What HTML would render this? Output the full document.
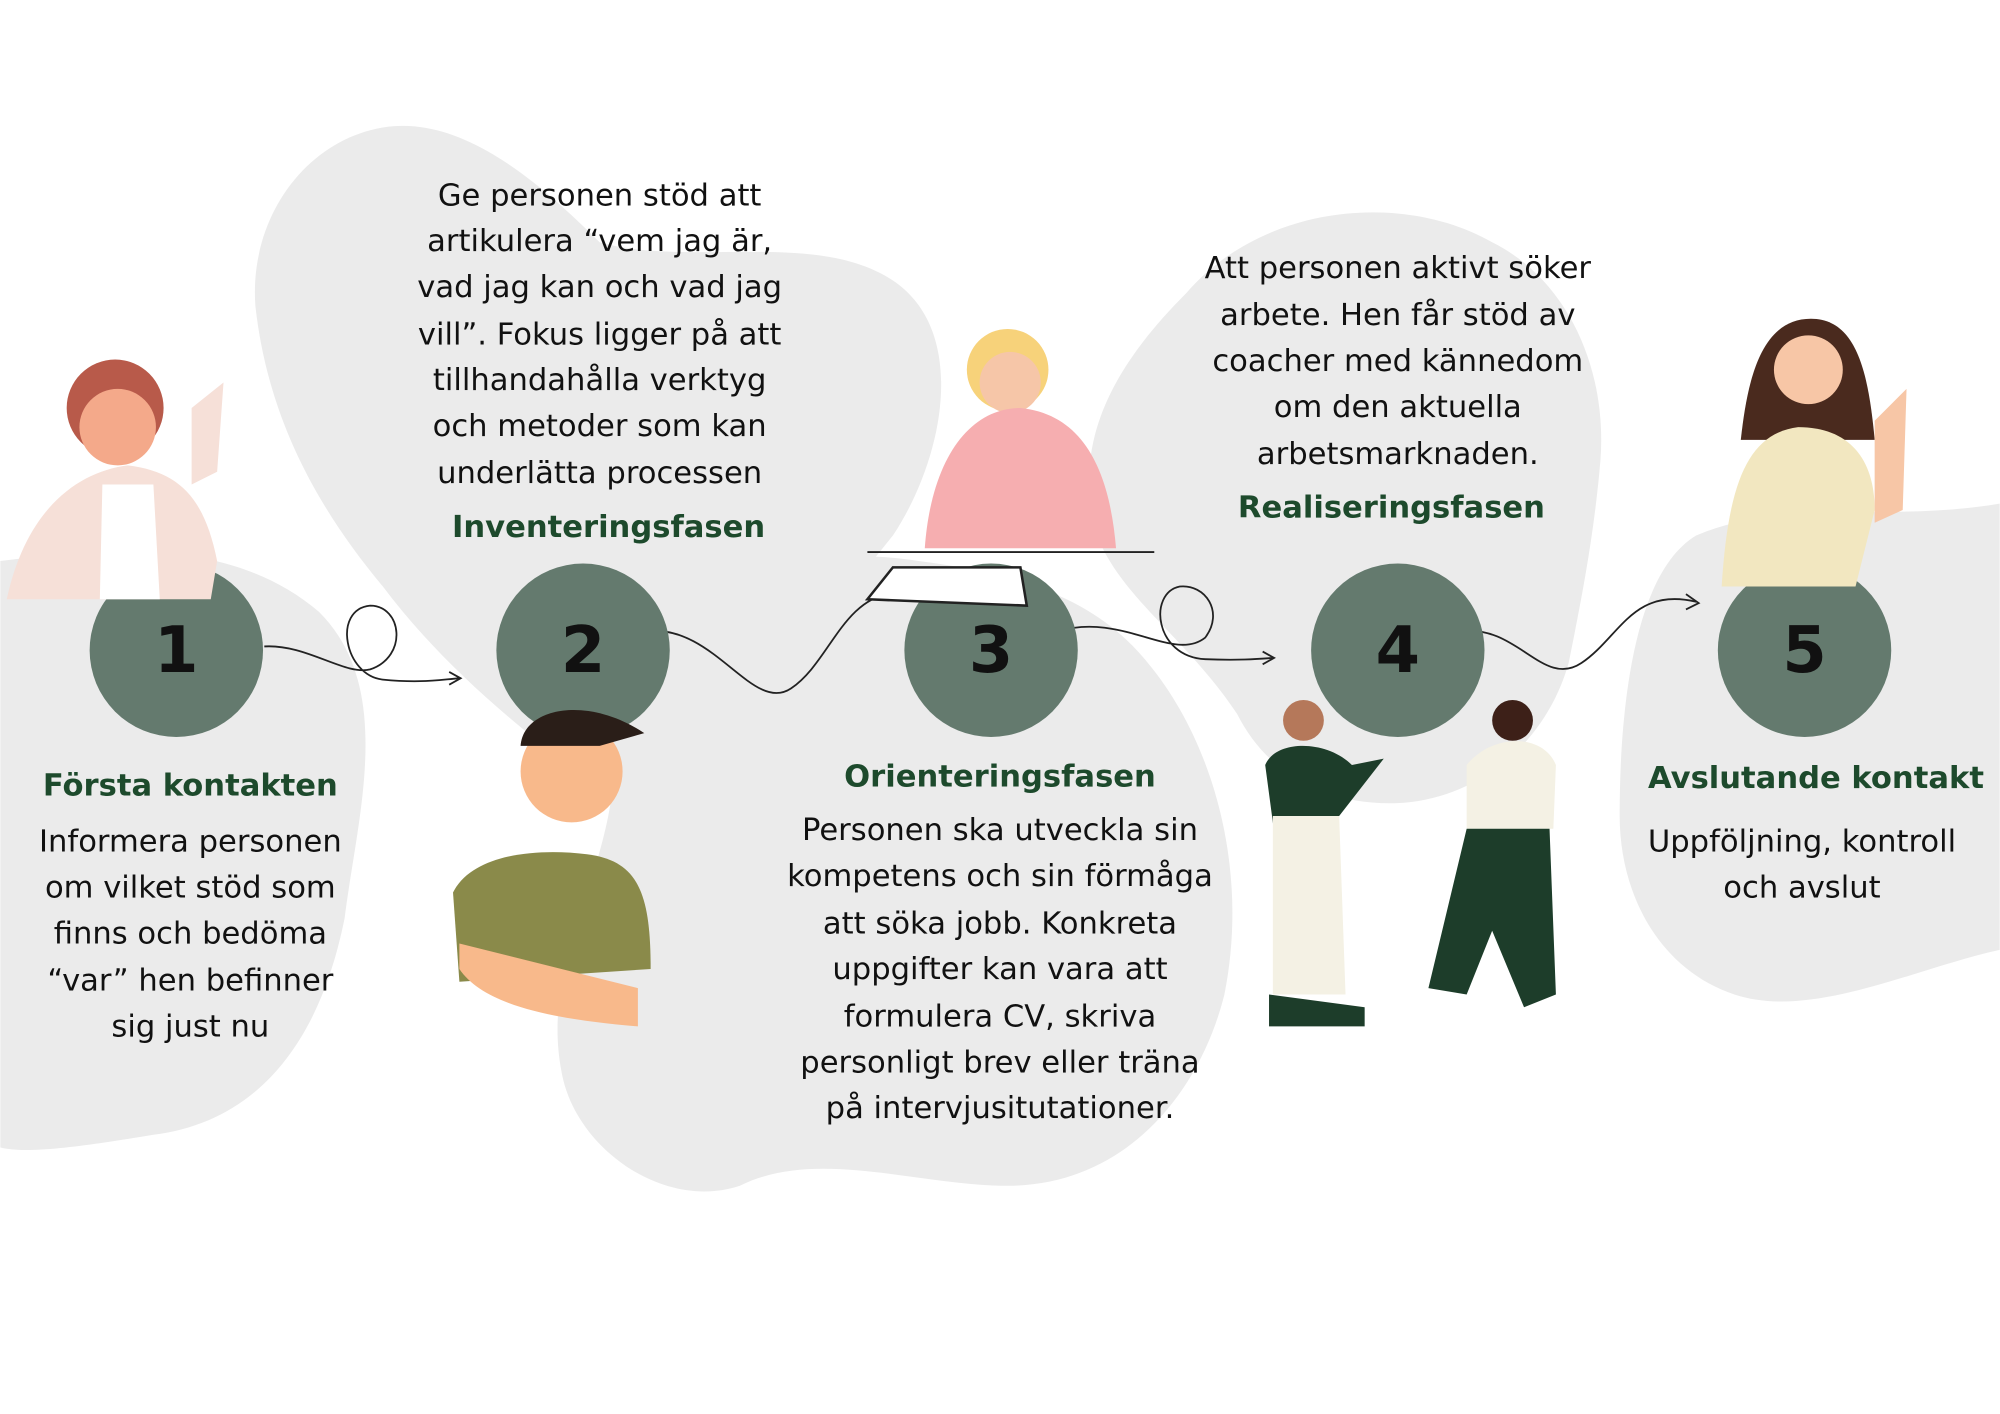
<!DOCTYPE html>
<html><head><meta charset="utf-8"><style>
html,body{margin:0;padding:0;background:#fff;}
svg{display:block;}
text{font-family:"DejaVu Sans","Liberation Sans",sans-serif;}
.b{font-size:24px;fill:#111;text-anchor:middle;}
.h{font-size:24px;font-weight:bold;fill:#1d4a2c;text-anchor:middle;}
.n{font-size:50px;font-weight:bold;fill:#111;text-anchor:middle;}
</style></head><body>
<svg width="2000" height="1414" viewBox="0 0 1568 1109" xmlns="http://www.w3.org/2000/svg">
<rect width="1568" height="1109" fill="#fff"/>
<g fill="#ebebeb">
<path d="M0 440 C80 430 180 420 250 480 C310 540 280 640 270 720 C250 820 200 880 120 890 C60 900 20 905 0 900 Z"/>
<path d="M300 100 C360 90 420 140 470 190 C540 210 640 180 700 220 C760 260 740 360 700 420 C660 470 600 540 560 580 C520 620 460 610 420 580 C370 540 330 500 300 460 C250 400 210 330 200 240 C195 170 240 110 300 100 Z"/>
<path d="M520 480 C580 440 660 430 720 440 C800 450 860 470 900 520 C950 580 980 680 960 780 C940 860 880 930 790 930 C720 930 640 900 580 930 C520 950 450 900 440 840 C425 760 470 700 480 620 C490 560 480 510 520 480 Z"/>
<path d="M930 230 C990 160 1100 150 1170 190 C1230 220 1260 290 1255 360 C1250 420 1240 470 1230 520 C1210 590 1150 630 1090 630 C1030 630 990 600 970 560 C930 500 880 470 860 420 C840 350 870 290 930 230 Z"/>
<path d="M1330 420 C1400 390 1480 410 1568 395 L1568 745 C1500 760 1420 800 1360 780 C1300 760 1270 700 1270 640 C1270 560 1280 450 1330 420 Z"/>
</g>
<g fill="none" stroke="#222" stroke-width="1.4">
<path d="M207 507 C240 505 270 530 290 525 C320 515 315 475 290 475 C260 478 270 530 300 533 C330 536 345 533 360 532"/>
<path d="M352 527 L361 532 L352 537"/>
<path d="M508 495 C560 490 590 560 620 540 C650 520 660 470 700 465"/>
<path d="M830 495 C880 480 920 520 945 500 C960 480 945 458 925 460 C900 465 905 515 945 517 C970 518 985 517 998 516"/>
<path d="M990 511 L999 516 L990 521"/>
<path d="M1146 495 C1190 490 1210 540 1240 520 C1270 500 1280 460 1330 472"/>
<path d="M1322 466 L1332 473 L1322 478"/>
</g>
<g fill="#647a6e">
<circle cx="138" cy="510" r="68"/><circle cx="457" cy="510" r="68"/><circle cx="777" cy="510" r="68"/><circle cx="1096" cy="510" r="68"/><circle cx="1415" cy="510" r="68"/>
</g>
<text class="n" x="138" y="527">1</text><text class="n" x="457" y="527">2</text><text class="n" x="777" y="527">3</text><text class="n" x="1096" y="527">4</text><text class="n" x="1415" y="527">5</text>
<g>
<circle cx="90" cy="320" r="38" fill="#b85a4a"/><circle cx="92" cy="335" r="30" fill="#f4a98a"/>
<path d="M5 470 C20 400 60 370 100 365 C140 370 160 390 170 440 L165 470 Z" fill="#f6e0d8"/>
<path d="M80 380 L120 380 L125 470 L78 470 Z" fill="#fff"/>
<path d="M150 320 L175 300 L170 370 L150 380 Z" fill="#f6e0d8"/>
<circle cx="448" cy="605" r="40" fill="#f8b98b"/><path d="M408 585 C410 555 460 545 505 575 L470 585 Z" fill="#2a1e18"/>
<path d="M355 700 C370 670 420 665 460 670 C500 675 510 700 510 760 L360 770 Z" fill="#8a8a4a"/>
<path d="M360 760 C380 790 440 800 500 805 L500 775 L360 740 Z" fill="#f8b98b"/>
<circle cx="790" cy="290" r="32" fill="#f7d27a"/><circle cx="792" cy="300" r="24" fill="#f6c6a8"/>
<path d="M725 430 C730 360 760 320 800 320 C850 325 870 370 875 430 Z" fill="#f6aeb0"/>
<path d="M680 470 L700 445 L800 445 L805 475 Z" fill="#fff" stroke="#222" stroke-width="2"/>
<line x1="680" y1="433" x2="905" y2="433" stroke="#222" stroke-width="1.5"/>
<circle cx="1022" cy="565" r="16" fill="#b5785a"/>
<path d="M992 600 C1000 580 1040 580 1060 600 L1085 595 L1050 640 L1045 640 L1000 660 Z" fill="#1d3d2a"/>
<path d="M998 640 L1050 640 L1055 780 L998 780 Z" fill="#f4f1e4"/>
<path d="M995 780 L1070 790 L1070 805 L995 805 Z" fill="#1d3d2a"/>
<circle cx="1186" cy="565" r="16" fill="#3d2018"/>
<path d="M1150 600 C1170 575 1210 575 1220 600 L1218 650 L1150 650 Z" fill="#f4f1e4"/>
<path d="M1150 650 L1215 650 L1220 780 L1195 790 L1170 730 L1150 780 L1120 775 Z" fill="#1d3d2a"/>
<path d="M1420 250 C1380 250 1370 300 1365 345 L1470 345 C1465 290 1455 250 1420 250 Z" fill="#4a2a1e"/><circle cx="1418" cy="290" r="27" fill="#f7c6a6"/>
<path d="M1350 460 C1355 380 1370 340 1410 335 C1450 335 1470 360 1470 400 L1455 460 Z" fill="#f2e7c0"/>
<path d="M1470 330 L1495 305 L1492 400 L1470 410 Z" fill="#f7c6a6"/>
</g>
<text class="h" x="149" y="624">Första kontakten</text>
<text class="b"><tspan x="149" y="668">Informera personen</tspan><tspan x="149" y="704">om vilket stöd som</tspan><tspan x="149" y="740">finns och bedöma</tspan><tspan x="149" y="777">“var” hen befinner</tspan><tspan x="149" y="813">sig just nu</tspan></text>
<text class="b"><tspan x="470" y="161">Ge personen stöd att</tspan><tspan x="470" y="197">artikulera “vem jag är,</tspan><tspan x="470" y="233">vad jag kan och vad jag</tspan><tspan x="470" y="270">vill”. Fokus ligger på att</tspan><tspan x="470" y="306">tillhandahålla verktyg</tspan><tspan x="470" y="342">och metoder som kan</tspan><tspan x="470" y="379">underlätta processen</tspan></text>
<text class="h" x="477" y="421">Inventeringsfasen</text>
<text class="h" x="784" y="617">Orienteringsfasen</text>
<text class="b"><tspan x="784" y="659">Personen ska utveckla sin</tspan><tspan x="784" y="695">kompetens och sin förmåga</tspan><tspan x="784" y="732">att söka jobb. Konkreta</tspan><tspan x="784" y="768">uppgifter kan vara att</tspan><tspan x="784" y="805">formulera CV, skriva</tspan><tspan x="784" y="841">personligt brev eller träna</tspan><tspan x="784" y="877">på intervjusitutationer.</tspan></text>
<text class="b"><tspan x="1096" y="218">Att personen aktivt söker</tspan><tspan x="1096" y="255">arbete. Hen får stöd av</tspan><tspan x="1096" y="291">coacher med kännedom</tspan><tspan x="1096" y="327">om den aktuella</tspan><tspan x="1096" y="364">arbetsmarknaden.</tspan></text>
<text class="h" x="1091" y="406">Realiseringsfasen</text>
<text class="h" x="1424" y="618">Avslutande kontakt</text>
<text class="b"><tspan x="1413" y="668">Uppföljning, kontroll</tspan><tspan x="1413" y="704">och avslut</tspan></text>
</svg>
</body></html>
